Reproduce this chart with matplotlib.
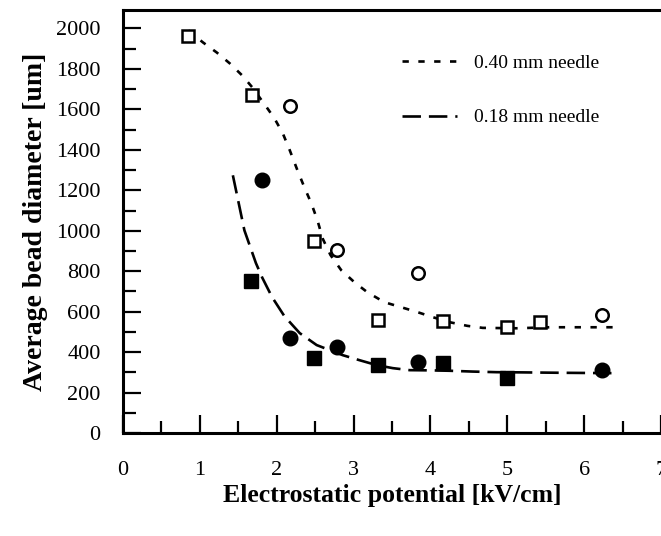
import numpy as np
import matplotlib.pyplot as plt

plt.rcParams['font.family'] = ['Liberation Serif', 'DejaVu Serif']

# measured points, 0.40 mm needle
sq040_x = [0.84, 1.68, 2.49, 3.32, 4.17, 4.99, 5.42]
sq040_y = [1960, 1669, 948, 558, 553, 523, 548]
ci040_x = [2.17, 2.78, 3.84, 6.23]
ci040_y = [1615, 904, 790, 583]

# measured points, 0.18 mm needle
sq018_x = [1.66, 2.49, 3.32, 4.16, 4.99]
sq018_y = [751, 370, 336, 346, 272]
ci018_x = [1.81, 2.17, 2.78, 3.84, 6.23]
ci018_y = [1249, 469, 425, 351, 311]

# fitted curves
fit040_x = [0.85, 1.04, 1.22, 1.39, 1.55, 1.68, 1.87, 1.97, 2.08, 2.17, 2.27,
            2.36, 2.45, 2.53, 2.6, 2.7, 2.84, 3.01, 3.18, 3.4, 3.62, 3.83,
            4.03, 4.25, 4.48, 4.68, 5.12, 5.55, 5.94, 6.45]
fit040_y = [1990, 1931, 1881, 1827, 1768, 1710, 1610, 1556, 1481, 1398, 1299,
            1215, 1136, 1052, 960, 880, 805, 746, 696, 647, 622, 598,
            573, 548, 530, 520, 518, 523, 523, 523]
fit018_x = [1.43, 1.58, 1.73, 1.81, 1.94, 2.1, 2.3, 2.52, 2.69, 2.86, 3.08,
            3.3, 3.51, 3.73, 4.0, 4.25, 4.55, 4.86, 5.2, 5.7, 6.45]
fit018_y = [1274, 1002, 840, 770, 672, 578, 494, 435, 410, 385, 360,
            336, 321, 311, 310, 308, 304, 301, 300, 298, 296]

fig = plt.figure(figsize=(6.61, 5.36), dpi=100)
ax = fig.add_axes([0.186, 0.192, 0.814, 0.789])

ax.plot(fit040_x, fit040_y, color='black', lw=1.9, linestyle=(0, (2.4, 3.6)),
        label='0.40 mm needle')
ax.plot(fit018_x, fit018_y, color='black', lw=1.9, linestyle=(0, (7, 3)),
        label='0.18 mm needle')

ax.plot(sq040_x, sq040_y, 's', ms=9, mfc='white', mec='black', mew=1.8)
ax.plot(ci040_x, ci040_y, 'o', ms=9, mfc='white', mec='black', mew=1.8)
ax.plot(sq018_x, sq018_y, 's', ms=9.5, color='black')
ax.plot(ci018_x, ci018_y, 'o', ms=10.5, color='black')

ax.set_xlim(0, 7)
ax.set_ylim(0, 2090)
ax.set_xticks(np.arange(0, 8, 1))
ax.set_xticks(np.arange(0, 7.5, 0.5), minor=True)
ax.set_yticks(np.arange(0, 2001, 200))
ax.set_yticks(np.arange(0, 2001, 100), minor=True)

ax.tick_params(which='both', direction='in', width=1.6, labelsize=16)
ax.tick_params(axis='x', which='major', length=13, pad=20)
ax.tick_params(axis='x', which='minor', length=9)
ax.tick_params(axis='y', which='major', length=13, pad=16)
ax.tick_params(axis='y', which='minor', length=9)
ax.tick_params(axis='x', top=False, which='both')

for s in ['left', 'bottom', 'top']:
    ax.spines[s].set_linewidth(2.2)
ax.spines['right'].set_visible(False)

ax.set_xlabel('Electrostatic potential [kV/cm]', fontsize=18.5, fontweight='bold',
              labelpad=3)
ax.set_ylabel('Average bead diameter [um]', fontsize=20, fontweight='bold',
              labelpad=6)

ax.legend(loc='upper left', bbox_to_anchor=(0.487, 0.937), frameon=False,
          fontsize=14, handlelength=2.8, handletextpad=0.9, labelspacing=1.9)

fig.savefig('out.png', dpi=100)
